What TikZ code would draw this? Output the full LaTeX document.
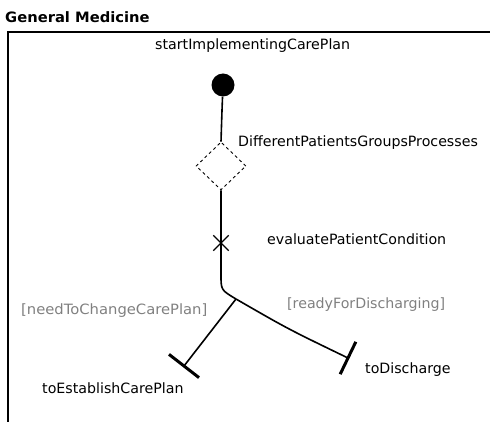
\documentclass[tikz,border=0pt]{standalone}
\usepackage{fontspec}
\setmainfont{DejaVu Sans}
\usetikzlibrary{shapes.geometric,shapes.misc,calc}
\definecolor{guardgray}{RGB}{128,128,128}
\begin{document}
\begin{tikzpicture}[x=1pt,y=-1pt,
  txt/.style={font=\fontsize{14.2}{16}\selectfont, inner sep=0pt, anchor=west},
  guard/.style={txt, text=guardgray},
  flow/.style={line width=1.6pt},
  endbar/.style={line width=3pt},
  framebox/.style={line width=1.8pt}]
\useasboundingbox (0,0) rectangle (490,422);

% region frame and title
\node[txt, font=\fontsize{14.3}{16}\selectfont\bfseries] (title) at (5,17) {\scalebox{1.03}[1]{General Medicine}};
\coordinate (fr) at (490,32);
\coordinate (fc) at (8,32);
\coordinate (fb) at (8,422);
\draw[framebox] (fr) -- (fc) -- (fb);

% initial state and decision
\node[circle, fill=black, minimum size=23pt, inner sep=0pt] (start) at (223,85) {};
\node[txt] (startlbl) at (155,46) {startImplementingCarePlan};
\node[diamond, draw, dashed, line width=0.9pt, minimum width=50pt, minimum height=48pt, inner sep=0pt] (dec) at (221,166) {};
\node[txt] (declbl) at (238,143) {DifferentPatientsGroupsProcesses};

% evaluation cross
\node[cross out, draw, line width=1.3pt, minimum size=14pt, inner sep=0pt] (ev) at (221,243) {};
\node[txt] (evlbl) at (267,239) {evaluatePatientCondition};

% branching
\coordinate (bend) at (221,275);
\coordinate (j) at (236,299);
\coordinate (e1) at (184,366);
\coordinate (c2) at (288,329);
\coordinate (e2) at (348,358);

\draw[flow] (start) .. controls (222,110) .. (dec.north);
\draw[flow] (dec.south) -- (ev.center) -- (bend) .. controls (221,290) .. (j);
\draw[flow] (j) -- (e1);
\draw[flow] (j) .. controls (c2) .. (e2);

\draw[endbar] ($(e1)!19pt!90:(j)$) -- ($(e1)!19pt!-90:(j)$);
\draw[endbar] ($(e2)!18pt!90:(c2)$) -- ($(e2)!18pt!-90:(c2)$);

\node[guard] (g1) at (21,311) {\scalebox{1.04}[1]{[needToChangeCarePlan]}};
\node[guard] (g2) at (287,305) {[readyForDischarging]};
\node[txt] (t1) at (42,388) {toEstablishCarePlan};
\node[txt] (t2) at (365,370) {toDischarge};
\end{tikzpicture}
\end{document}
